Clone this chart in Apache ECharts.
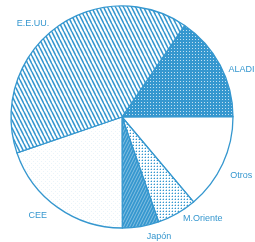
<!DOCTYPE html>
<html><head><meta charset="utf-8">
<script src="https://cdn.jsdelivr.net/npm/echarts@6/dist/echarts.min.js"></script>
<style>html,body{margin:0;padding:0;background:#fff;overflow:hidden}#c{width:255px;height:242px}</style>
</head><body><div id="c"></div>
<script>
const categories = ['ALADI', 'Otros', 'M.Oriente', 'Japón', 'CEE', 'E.E.UU.'];
const values = [15.4, 13.9, 5.8, 5.3, 19.8, 39.8];

const BLUE = '#3597cf';
function tile(w, h, draw) {
  const c = document.createElement('canvas');
  c.width = w; c.height = h;
  const g = c.getContext('2d');
  draw(g, w, h);
  return { image: c, repeat: 'repeat' };
}
const patEEUU = tile(4, 8, (g) => {
  g.fillStyle = '#fff'; g.fillRect(0, 0, 4, 8);
  g.strokeStyle = BLUE; g.lineWidth = 1.6;
  for (const c of [-4, 0, 4]) { g.beginPath(); g.moveTo(c, 0); g.lineTo(c + 4, 8); g.stroke(); }
});
const patALADI = tile(3, 3, (g) => {
  g.fillStyle = BLUE; g.fillRect(0, 0, 3, 3);
  g.fillStyle = 'rgba(255,255,255,0.7)'; g.fillRect(0, 0, 1, 1);
});
const patOtros = '#ffffff';
const patMO = tile(3, 3, (g) => {
  g.fillStyle = '#fff'; g.fillRect(0, 0, 3, 3);
  g.fillStyle = BLUE; g.fillRect(1, 1, 1, 1);
  g.fillStyle = 'rgba(53,151,207,0.35)'; g.fillRect(0, 1, 1, 1); g.fillRect(1, 0, 1, 1);
});
const patJP = tile(3, 6, (g) => {
  g.fillStyle = BLUE; g.fillRect(0, 0, 3, 6);
  g.strokeStyle = 'rgba(255,255,255,0.5)'; g.lineWidth = 0.8;
  for (const c of [-3, 0, 3, 6]) { g.beginPath(); g.moveTo(c, 0); g.lineTo(c - 3, 6); g.stroke(); }
});
const patCEE = tile(4, 4, (g) => {
  g.fillStyle = '#fff'; g.fillRect(0, 0, 4, 4);
  g.fillStyle = 'rgba(53,151,207,0.10)'; g.fillRect(1, 1, 1, 1); g.fillRect(3, 3, 1, 1);
});
const fills = [patALADI, patOtros, patMO, patJP, patCEE, patEEUU];
const labelNudge = [[-2, 7], [-3, 9], [-2, 0], [0, 4], [-2, 3], [3, 0]];

const chart = echarts.init(document.getElementById('c'), null, { renderer: 'canvas' });
chart.setOption({
  animation: false,
  backgroundColor: '#fff',
  series: [{
    type: 'pie',
    center: [122, 117],
    radius: 111,
    startAngle: 55.6,
    clockwise: true,
    avoidLabelOverlap: false,
    itemStyle: { borderColor: BLUE, borderWidth: 1.3 },
    label: { position: 'outside', color: BLUE, fontSize: 9, fontFamily: 'Liberation Sans' },
    labelLine: { show: false, length: 6, length2: 0 },
    labelLayout: (p) => ({ dx: labelNudge[p.dataIndex][0], dy: labelNudge[p.dataIndex][1] }),
    emphasis: { disabled: true },
    data: categories.map((n, i) => ({ name: n, value: values[i], itemStyle: { color: fills[i] } }))
  }]
});
</script></body></html>
